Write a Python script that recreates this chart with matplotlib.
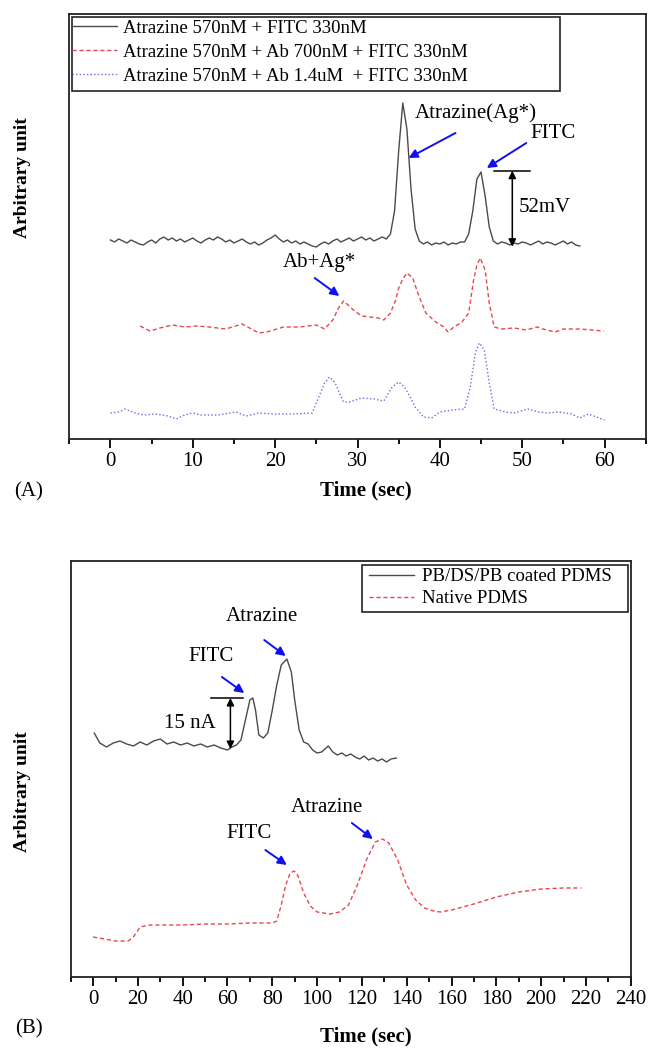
import numpy as np
import matplotlib
matplotlib.use("Agg")
import matplotlib.pyplot as plt
from matplotlib.patches import Rectangle

plt.rcParams['font.family'] = ['Liberation Serif', 'DejaVu Serif']

# ---------------- Panel A data ----------------
a_black_y = [199, 197, 200, 198, 196, 199, 197, 195, 194, 197, 199, 196, 200, 202, 199, 201,
             198, 200, 197, 199, 201, 198, 196, 199, 201, 199, 202, 200, 197, 199, 196, 198,
             200, 197, 195, 197, 194, 196, 199, 201, 204, 200, 197, 199, 196, 198, 195, 197,
             195, 193, 192, 195, 197, 195, 198, 200, 197, 199, 201, 198, 200, 202, 199, 201,
             198, 200, 202, 200, 205, 228, 288, 336, 310, 250, 210, 198, 195, 197, 194, 196,
             195, 197, 194, 196, 195, 197, 197, 205, 228, 260, 267, 243, 212, 198, 195, 197,
             196, 194, 196, 195, 197, 196, 194, 196, 198, 195, 197, 196, 194, 196, 198, 195,
             197, 194, 193]
a_black_x = np.arange(len(a_black_y)) * 0.5

a_red_x = [3.6, 4.8, 6.0, 7.5, 9.0, 10.5, 12.0, 14.0, 16.0, 18.0, 19.0, 21.0, 23.0, 25.0, 26.0,
           27.0, 27.7, 28.3, 29.0, 29.5, 30.5, 31.5, 32.5, 33.2, 34.0, 34.6, 35.0, 35.5, 36.0,
           36.7, 37.5, 38.3, 39.5, 40.5, 41.0, 41.7, 42.7, 43.5, 44.1, 44.5, 44.9, 45.5, 46.0,
           46.6, 47.5, 49.0, 50.5, 51.8, 52.5, 54.0, 55.0, 57.0, 58.5, 59.9]
a_red_y = [113, 108, 111, 114, 112, 113, 112, 110, 115, 106, 107, 112, 112, 114, 110,
           119, 131, 138, 133, 129, 123, 122, 121, 119, 126, 138, 151, 160, 166,
           161, 142, 126, 117, 112, 107, 112, 117, 126, 159, 174, 181, 169, 136,
           112, 110, 111, 109, 112, 110, 107, 110, 110, 109, 108]

a_blue_x = [0, 1.0, 1.8, 3.0, 4.0, 5.5, 7.0, 8.0, 9.0, 10.0, 11.0, 13.0, 14.5, 15.2, 16.5,
            18.0, 20.0, 22.0, 24.5, 25.0, 25.6, 26.0, 26.6, 27.3, 27.8, 28.3, 29.0, 30.5,
            32.0, 33.2, 34.2, 35.0, 35.7, 36.4, 37.0, 38.0, 39.0, 40.0, 41.5, 43.0, 43.7,
            44.3, 44.8, 45.4, 46.0, 46.6, 48.0, 49.0, 50.7, 52.0, 53.0, 54.5, 56.0, 57.0,
            58.0, 59.0, 60.0]
a_blue_y = [26, 27, 30, 26, 24, 25, 23, 20, 24, 26, 24, 24, 26, 27, 23,
            26, 25, 25, 26, 36, 48, 56, 62, 56, 46, 37, 37, 41,
            40, 38, 52, 57, 52, 42, 32, 22, 21, 27, 29, 30, 52,
            86, 96, 89, 56, 30, 27, 26, 30, 27, 26, 27, 25, 21,
            25, 22, 19]

a_labels = ["Atrazine 570nM + FITC 330nM",
            "Atrazine 570nM + Ab 700nM + FITC 330nM",
            "Atrazine 570nM + Ab 1.4uM  + FITC 330nM"]
a_xticks = [0, 10, 20, 30, 40, 50, 60]

# ---------------- Panel B data ----------------
b_black_x = [0.5, 3, 6, 9, 12, 15, 18, 21, 24, 27, 30, 33, 36, 39, 42, 45, 48, 51, 54, 57, 60,
             62, 64, 66, 68, 70, 71.3, 72.5, 74, 76, 78, 80, 82, 84, 86.5, 88.5, 90, 92, 94,
             96, 98, 100, 102, 104, 105, 107, 109, 111, 113, 115, 117, 119, 121, 123, 125,
             127, 129, 131, 133, 135.4]
b_black_y = [244, 234, 230, 234, 236, 233, 231, 235, 232, 236, 238, 233, 235, 232, 234, 231,
             233, 230, 232, 229, 227, 230, 232, 237, 257, 277, 279, 267, 242, 239, 244, 267,
             292, 312, 318, 305, 277, 247, 235, 233, 227, 224, 225, 229, 231, 225, 222, 224,
             221, 223, 220, 218, 221, 217, 219, 216, 218, 215, 218, 219]

b_red_x = [0, 5, 10, 15.6, 18, 21, 25, 30, 40, 50, 60, 70, 80, 82, 84, 86, 88, 89.8, 91.5,
           94, 97, 100, 105.7, 110, 114, 118, 122, 126, 129.2, 132, 136, 140, 144, 148, 152,
           155, 160, 170, 180, 190, 200, 210, 218]
b_red_y = [40, 38, 36, 36, 40, 50, 52, 52, 52, 53, 53, 54, 54, 56, 72, 92, 104, 106, 101,
           84, 71, 65, 63, 65, 72, 92, 117, 135, 138, 134, 117, 92, 77, 69, 66,
           65, 67, 73, 80, 85, 88, 89, 89]

b_labels = ["PB/DS/PB coated PDMS", "Native PDMS"]
b_xticks = list(range(0, 241, 20))

# ---------------- styling ----------------
C_BLACK = "#4a4a4a"
C_RED = "#e8474f"
C_BLUE = "#6b6be6"
C_ARROW = "#1010ee"
FS_TICK = 15
FS_ANN = 15
FS_LEG = 13.5
FS_LAB = 15
FS_YLAB = 14

W, H = 648, 1048
fig = plt.figure(figsize=(W / 100, H / 100), dpi=100)


def frac_axes(l, t, r, b):
    return fig.add_axes([l / W, 1 - b / H, (r - l) / W, (b - t) / H])


def style_axes(ax):
    for s in ax.spines.values():
        s.set_linewidth(1.3)
        s.set_color("#222222")
    ax.set_yticks([])
    ax.tick_params(axis='x', which='major', direction='out', length=6.5, width=1.3,
                   labelsize=FS_TICK, pad=3, top=False)
    ax.tick_params(axis='x', which='minor', direction='out', length=3.5, width=1.3, top=False)


def blue_arrow(ax, tail, head):
    ax.annotate("", xy=head, xytext=tail,
                arrowprops=dict(arrowstyle='-|>', color=C_ARROW, lw=1.4,
                                mutation_scale=13, shrinkA=0, shrinkB=0))


def dbl_arrow(ax, x, ytop, ybot):
    ax.annotate("", xy=(x, ybot), xytext=(x, ytop),
                arrowprops=dict(arrowstyle='<|-|>', color='black', lw=1.1,
                                mutation_scale=11, shrinkA=0, shrinkB=0))


# ---------------- Panel A ----------------
axA = frac_axes(69.3, 14, 645.7, 439)
axA.plot(a_black_x, a_black_y, color=C_BLACK, lw=1.0, label=a_labels[0])
axA.plot(a_red_x, a_red_y, color=C_RED, lw=1.0, ls=(0, (3, 2)), label=a_labels[1])
axA.plot(a_blue_x, a_blue_y, color=C_BLUE, lw=1.0, ls=(0, (1, 1.6)), label=a_labels[2])
axA.set_xlim(-5, 65)
axA.set_ylim(0, 425)
axA.set_xticks(a_xticks)
axA.set_xticks(np.arange(-5, 66, 5), minor=True)
style_axes(axA)

axA.add_patch(Rectangle((0.0047, 0.819), 0.846, 0.174, transform=axA.transAxes,
                        fill=False, edgecolor="#222222", lw=1.2, zorder=5))
legA = axA.legend(loc='upper left', bbox_to_anchor=(-0.002, 0.995), frameon=False,
                  fontsize=FS_LEG, handlelength=2.4, handletextpad=0.3,
                  labelspacing=0.36, borderpad=0.2, borderaxespad=0.0)

axA.text(36.9, 326, "Atrazine(Ag*)", fontsize=FS_ANN, va='center', ha='left')
axA.text(51.0, 306, "FITC", fontsize=FS_ANN, va='center', ha='left')
axA.text(49.6, 232, "52mV", fontsize=FS_ANN, va='center', ha='left')
axA.text(25.4, 177, "Ab+Ag*", fontsize=FS_ANN, va='center', ha='center')
blue_arrow(axA, (41.9, 306), (36.2, 281))
blue_arrow(axA, (50.5, 296), (45.7, 271))
blue_arrow(axA, (24.8, 161), (27.8, 143))
axA.plot([46.6, 50.9], [268.3, 268.3], color='black', lw=1.1)
dbl_arrow(axA, 48.8, 268.3, 192.3)

# ---------------- Panel B ----------------
axB = frac_axes(70.7, 560.7, 630.7, 977)
axB.plot(b_black_x, b_black_y, color=C_BLACK, lw=1.0, label=b_labels[0])
axB.plot(b_red_x, b_red_y, color=C_RED, lw=1.0, ls=(0, (3, 2)), label=b_labels[1])
axB.set_xlim(-10, 240)
axB.set_ylim(0, 416.3)
axB.set_xticks(b_xticks)
axB.set_xticks(np.arange(-10, 241, 10), minor=True)
style_axes(axB)

axB.add_patch(Rectangle(((362 - 70.7) / 560, 1 - (611.7 - 560.7) / 416.3),
                        (628.5 - 362) / 560, (611.7 - 565) / 416.3, transform=axB.transAxes,
                        fill=False, edgecolor="#222222", lw=1.2, zorder=5))
legB = axB.legend(loc='upper left', bbox_to_anchor=((362 - 70.7) / 560 + 0.005, 0.993),
                  frameon=False, fontsize=FS_LEG, handlelength=2.4, handletextpad=0.4,
                  labelspacing=0.25, borderpad=0.25, borderaxespad=0.0)

axB.text(52.6, 321, "FITC", fontsize=FS_ANN, va='center', ha='center')
axB.text(75.5, 361, "Atrazine", fontsize=FS_ANN, va='center', ha='center')
axB.text(43.4, 254, "15 nA", fontsize=FS_ANN, va='center', ha='center')
axB.text(69.5, 144, "FITC", fontsize=FS_ANN, va='center', ha='center')
axB.text(104.6, 170, "Atrazine", fontsize=FS_ANN, va='center', ha='center')
blue_arrow(axB, (57.5, 300), (67.5, 284))
blue_arrow(axB, (76.4, 337), (86.0, 321))
blue_arrow(axB, (76.9, 127), (86.5, 112))
blue_arrow(axB, (115.5, 154), (124.9, 138))
axB.plot([52.6, 66.8], [279, 279], color='black', lw=1.1)
dbl_arrow(axB, 61.3, 279, 228)

# ---------------- figure texts ----------------
fig.text(23 / W, 1 - 178 / H, "Arbitrary unit", rotation=90, fontsize=FS_YLAB,
         fontweight='bold', ha='center', va='center')
fig.text(23 / W, 1 - 792 / H, "Arbitrary unit", rotation=90, fontsize=FS_YLAB,
         fontweight='bold', ha='center', va='center')
fig.text(366 / W, 1 - 490 / H, "Time (sec)", fontsize=FS_LAB, fontweight='bold',
         ha='center', va='center')
fig.text(366 / W, 1 - 1036 / H, "Time (sec)", fontsize=FS_LAB, fontweight='bold',
         ha='center', va='center')
fig.text(29 / W, 1 - 492 / H, "(A)", fontsize=FS_LAB, ha='center', va='center')
fig.text(28.5 / W, 1 - 1029 / H, "(B)", fontsize=FS_LAB, ha='center', va='center')

fig.savefig("out.png", dpi=100)
